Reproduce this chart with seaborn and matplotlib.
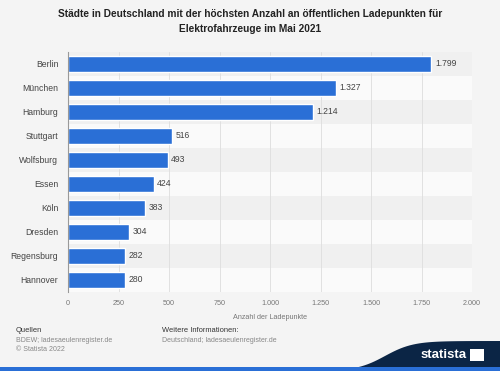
import matplotlib.pyplot as plt
import matplotlib.patches as mpatches
import numpy as np
import seaborn as sns

# Data
cities = ['Berlin', 'München', 'Hamburg', 'Stuttgart', 'Wolfsburg', 'Essen',
          'Köln', 'Dresden', 'Regensburg', 'Hannover']
ladepunkte = [1799, 1327, 1214, 516, 493, 424, 383, 304, 282, 280]
xticks = [0, 250, 500, 750, 1000, 1250, 1500, 1750, 2000]

bg = '#f4f4f4'
bar_color = '#2a6fd6'

sns.set_theme(style='white')
plt.rcParams['font.family'] = ['Liberation Sans', 'DejaVu Sans']

fig = plt.figure(figsize=(5, 3.71), dpi=100, facecolor=bg)
ax = fig.add_axes([0.136, 0.213, 0.808, 0.647])
ax.set_facecolor(bg)

# alternating row stripes
for i in range(len(cities)):
    ax.axhspan(i - 0.5, i + 0.5, color='#f0f0f0' if i % 2 == 0 else '#fafafa', zorder=0, lw=0)

sns.barplot(x=ladepunkte, y=cities, orient='h', color=bar_color, saturation=1,
            width=0.68, ax=ax, zorder=3)

def de_fmt(v):
    return f'{v:,}'.replace(',', '.')

for i, v in enumerate(ladepunkte):
    ax.text(v + 18, i, de_fmt(v), va='center', ha='left', fontsize=6.2, color='#444444', zorder=4)

ax.set_xlim(0, 2000)
ax.set_ylim(len(cities) - 0.5, -0.5)
ax.set_xticks(xticks)
ax.set_xticklabels([de_fmt(t) for t in xticks], fontsize=5.2, color='#777777')
ax.tick_params(axis='y', labelsize=6.2, labelcolor='#444444', length=0, pad=7)
ax.tick_params(axis='x', length=0, pad=6)
ax.grid(axis='x', color='#dddddd', lw=0.6, zorder=1)
ax.set_axisbelow(True)
for s in ['top', 'right', 'bottom']:
    ax.spines[s].set_visible(False)
ax.spines['left'].set_color('#999999')
ax.spines['left'].set_linewidth(0.8)
ax.spines['left'].set_zorder(5)
ax.set_ylabel('')
ax.set_xlabel('Anzahl der Ladepunkte', fontsize=5.2, color='#777777', labelpad=5)

fig.text(0.5, 0.975, 'Städte in Deutschland mit der höchsten Anzahl an öffentlichen Ladepunkten für\nElektrofahrzeuge im Mai 2021',
         ha='center', va='top', fontsize=7.3, fontweight='bold', color='#222222', linespacing=1.55)

# footer
fig.text(16 / 500, 1 - 331 / 371, 'Quellen', fontsize=5.4, color='#333333', va='center')
fig.text(16 / 500, 1 - 341 / 371, 'BDEW; ladesaeulenregister.de', fontsize=5, color='#888888', va='center')
fig.text(16 / 500, 1 - 349.5 / 371, '© Statista 2022', fontsize=5, color='#888888', va='center')
fig.text(162 / 500, 1 - 331 / 371, 'Weitere Informationen:', fontsize=5.4, color='#333333', va='center')
fig.text(162 / 500, 1 - 341 / 371, 'Deutschland; ladesaeulenregister.de', fontsize=5, color='#888888', va='center')

# statista logo block
xs = np.linspace(310, 500, 60)
curve = 371 - (371 - 341) * (1 / (1 + np.exp(-(xs - 385) / 14)))
poly = [(x / 500, 1 - y / 371) for x, y in zip(xs, curve)]
poly += [(1, 0), (310 / 500, 0)]
fig.patches.append(mpatches.Polygon(poly, closed=True, transform=fig.transFigure,
                                    facecolor='#0b2545', edgecolor='none'))
fig.patches.append(mpatches.Rectangle((0, 0), 1, 4 / 371, transform=fig.transFigure,
                                      facecolor='#2a6fd6', edgecolor='none'))
fig.text(467 / 500, 1 - 355 / 371, 'statista', fontsize=9.5, color='white', fontweight='bold',
         ha='right', va='center')
fig.patches.append(mpatches.Rectangle((470 / 500, 1 - 361 / 371), 14 / 500, 12 / 371,
                                      transform=fig.transFigure, facecolor='white', edgecolor='none'))

fig.savefig('out.png', dpi=100, facecolor=bg)
